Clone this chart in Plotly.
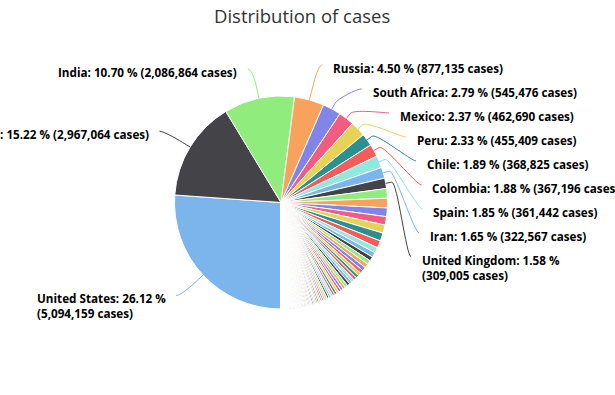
import math
import plotly.graph_objects as go

W, H = 615, 395

# ---------------- data ----------------
COUNTRIES = [
    "United States", "Brazil", "India", "Russia", "South Africa", "Mexico", "Peru",
    "Chile", "Colombia", "Spain", "Iran", "United Kingdom",
    "Saudi Arabia", "Pakistan", "Bangladesh", "Italy", "Argentina", "Turkey", "Germany",
    "France", "Iraq", "Philippines", "Indonesia", "Canada", "Qatar", "Kazakhstan",
    "Egypt", "Bolivia", "Ecuador", "China", "Sweden", "Israel", "Oman", "Ukraine",
    "Dominican Republic", "Panama", "Belgium", "Kuwait", "Belarus", "United Arab Emirates",
    "Romania", "Netherlands", "Guatemala", "Singapore", "Portugal", "Poland", "Honduras",
    "Nigeria", "Bahrain", "Ghana", "Armenia", "Japan", "Kyrgyzstan", "Afghanistan",
    "Switzerland", "Algeria", "Azerbaijan", "Morocco", "Uzbekistan", "Serbia", "Ireland",
    "Moldova", "Kenya", "Venezuela", "Costa Rica", "Nepal", "Austria", "Ethiopia",
    "Australia", "El Salvador", "Czechia", "Cameroon", "Cote d'Ivoire", "South Korea",
    "Denmark", "Palestine", "Bosnia and Herzegovina", "Bulgaria", "Madagascar", "Sudan",
    "North Macedonia", "Senegal", "Kosovo", "Norway", "DR Congo", "Malaysia", "Zambia",
    "Gabon", "Guinea", "Haiti", "Tajikistan", "Finland", "Luxembourg", "Paraguay",
    "Mauritania", "Lebanon", "Albania", "Djibouti", "Croatia", "Libya", "Greece",
    "Equatorial Guinea", "Maldives", "Central African Republic", "Hungary", "Zimbabwe",
    "Malawi", "Nicaragua", "Eswatini", "Congo", "Thailand", "Somalia", "Montenegro",
    "Namibia", "Cuba", "Sri Lanka", "Cabo Verde", "Mali", "Slovakia", "South Sudan",
    "Mozambique", "Slovenia", "Lithuania", "Suriname", "Estonia", "Rwanda",
    "Guinea-Bissau", "Iceland", "Benin", "Sierra Leone", "Yemen", "Tunisia", "Angola",
    "New Zealand", "Uruguay", "Uganda", "Latvia", "Jordan", "Liberia", "Georgia",
    "Cyprus", "Burkina Faso", "Niger", "Bahamas", "Andorra", "Chad", "Togo", "Syria",
    "Jamaica", "Malta", "Gambia", "Sao Tome and Principe", "Botswana", "Vietnam",
    "Diamond Princess", "Lesotho", "San Marino", "Tanzania", "Guyana", "Taiwan",
    "Burundi", "Comoros", "Myanmar", "Mauritius", "Mongolia", "Eritrea", "Cambodia",
    "Papua New Guinea", "Trinidad and Tobago", "Brunei", "Barbados", "Monaco",
    "Seychelles", "Bhutan", "Belize", "Antigua and Barbuda", "Liechtenstein",
    "Saint Vincent and the Grenadines", "Fiji", "Timor-Leste", "Saint Lucia", "Grenada",
    "Laos", "Dominica", "Saint Kitts and Nevis", "Holy See", "Western Sahara", "MS Zaandam",
]

CASES = [
    5094159, 2967064, 2086864, 877135, 545476, 462690, 455409,
    368825, 367196, 361442, 322567, 309005,
    284226, 283487, 255113, 250103, 241811, 239622, 216327,
    165000, 144064, 126885, 123503, 120421, 112947, 98701,
    95147, 89999, 89143, 88707, 82323, 81720, 81357, 79087,
    77208, 73651, 72016, 71713, 68850, 62300,
    58012, 57987, 55270, 54797, 52351, 50324, 47010,
    46140, 42889, 40533, 40410, 40000, 37000, 37000,
    36100, 34155, 33000, 31000, 30800, 28000, 26500,
    26000, 25000, 24000, 22000, 21800, 21500, 21000,
    20300, 19000, 17900, 17700, 16700, 14600,
    14500, 13400, 13300, 12900, 12800, 11900,
    11900, 10900, 10100, 9500, 9400, 9000, 8500,
    7800, 7600, 7600, 7500, 7500, 7000, 6900,
    6500, 6500, 6000, 5300, 5100, 5000, 5000,
    4800, 4700, 4600, 4600, 4600,
    4500, 3700, 3700, 3500, 3300, 3200, 3000,
    3000, 2800, 2800, 2800, 2500, 2500, 2400,
    2300, 2200, 2200, 2100, 2100, 2100,
    2000, 1900, 1900, 1800, 1800, 1700, 1600,
    1570, 1300, 1300, 1250, 1200, 1200, 1200,
    1200, 1150, 1150, 1000, 950, 940, 900, 900,
    900, 900, 900, 870, 800, 800,
    712, 700, 700, 509, 500, 480,
    400, 400, 360, 344, 290, 280, 240,
    200, 200, 141, 130, 120,
    120, 100, 100, 92, 90,
    55, 27, 25, 25, 24,
    20, 18, 17, 12, 10, 9,
]

# percentages printed in the labels (first entries only)
LABEL_PCT = [26.12, 15.22, 10.70, 4.50, 2.79, 2.37, 2.33, 1.89, 1.88, 1.85, 1.65, 1.58]
WRAPPED = ["United States", "United Kingdom"]

TITLE = "Distribution of cases"

# ---------------- style / layout ----------------
PALETTE = ['#7cb5ec', '#434348', '#90ed7d', '#f7a35c', '#8085e9',
           '#f15c80', '#e4d354', '#2b908f', '#f45b5b', '#91e8e1']
colors = [PALETTE[i % len(PALETTE)] for i in range(len(CASES))]

CX, CY, R = 281.0, 202.5, 106.5       # pie centre / radius in px
LABEL_DIST = 30
RL = R + LABEL_DIST
SPACING = 24
RIGHT_SHIFT = -6      # crowded right-hand column sits a little above its targets
TEXT_DY = 3
LINE_H = 14.4
TEXT_GAP_R, TEXT_GAP_L = 9, 8.5
FONT = "Open Sans"
LABEL_SIZE = 11.7


def px(x):
    return x / W


def py(y):
    return 1 - y / H


fig = go.Figure()
fig.add_trace(go.Pie(
    values=CASES, labels=COUNTRIES, sort=False, direction="clockwise",
    rotation=180, textinfo="none", showlegend=False,
    marker=dict(colors=colors, line=dict(color="white", width=1)),
    domain=dict(x=[px(CX - R), px(CX + R)], y=[py(CY + R), py(CY - R)]),
    hovertemplate="%{label}: %{value:,} cases<extra></extra>",
))

total = float(sum(CASES))
cum = 0.0
mids = []
for v in CASES:
    start = 180 + 360 * cum / total
    cum += v
    end = 180 + 360 * cum / total
    mids.append(math.radians((start + end) / 2))

n_lab = len(LABEL_PCT)
labels = []
for i in range(n_lab):
    a = mids[i]
    labels.append(dict(i=i, a=a, side="right" if math.sin(a) > 0 else "left",
                       nat_y=CY - RL * math.cos(a), nat_x=CX + RL * math.sin(a)))

for side in ("left", "right"):
    group = sorted([l for l in labels if l["side"] == side], key=lambda l: l["nat_y"])
    prev = -1e9
    crowded = False
    for l in group:
        y = max(l["nat_y"], prev + SPACING)
        l["moved"] = y > l["nat_y"] + 0.01
        crowded = crowded or l["moved"]
        l["y"] = y
        prev = y
    if crowded and side == "right":
        for l in group:
            l["y"] += RIGHT_SHIFT

shapes = []
annotations = []
for l in labels:
    i, a = l["i"], l["a"]
    sgn = 1 if l["side"] == "right" else -1
    ly = l["y"]
    if l["moved"]:
        dx = math.sqrt(max(RL ** 2 - (ly - CY) ** 2, 0))
    else:
        dx = abs(l["nat_x"] - CX)
    lx = CX + sgn * (dx + 5)
    tx, ty = CX + R * math.sin(a), CY - R * math.cos(a)
    bx, by = CX + (R + 6) * math.sin(a), CY - (R + 6) * math.cos(a)
    c1x = lx - 5 * sgn
    path = (f"M{px(lx)},{py(ly)} C{px(c1x)},{py(ly)} {px(2 * bx - tx)},{py(2 * by - ty)} "
            f"{px(bx)},{py(by)} L{px(tx)},{py(ty)}")
    shapes.append(dict(type="path", path=path, xref="paper", yref="paper",
                       line=dict(color=colors[i], width=1), layer="above"))

    name = COUNTRIES[i]
    sep = "<br>" if name in WRAPPED else " "
    text = f"<b>{name}: {LABEL_PCT[i]:.2f} %{sep}({CASES[i]:,} cases)</b>"
    nlines = 2 if name in WRAPPED else 1
    yc = ly + TEXT_DY + (nlines - 1) * LINE_H / 2
    annotations.append(dict(
        x=px(lx + (TEXT_GAP_R if sgn > 0 else -TEXT_GAP_L)), y=py(yc),
        xref="paper", yref="paper",
        xanchor="left" if sgn > 0 else "right", yanchor="middle", align="left",
        text=text, showarrow=False,
        font=dict(family=FONT, size=LABEL_SIZE, color="#000000"),
    ))

annotations.append(dict(
    x=px(301.5), y=py(16), xref="paper", yref="paper", xanchor="center", yanchor="middle",
    text=TITLE, showarrow=False, font=dict(family=FONT, size=18.5, color="#333333"),
))

fig.update_layout(
    width=W, height=H, margin=dict(l=0, r=0, t=0, b=0),
    paper_bgcolor="white", plot_bgcolor="white",
    shapes=shapes, annotations=annotations,
)

fig.write_html(
    "out.html",
    config={"displayModeBar": False},
    post_script="document.body.style.margin='0';document.body.style.overflow='hidden';",
)
